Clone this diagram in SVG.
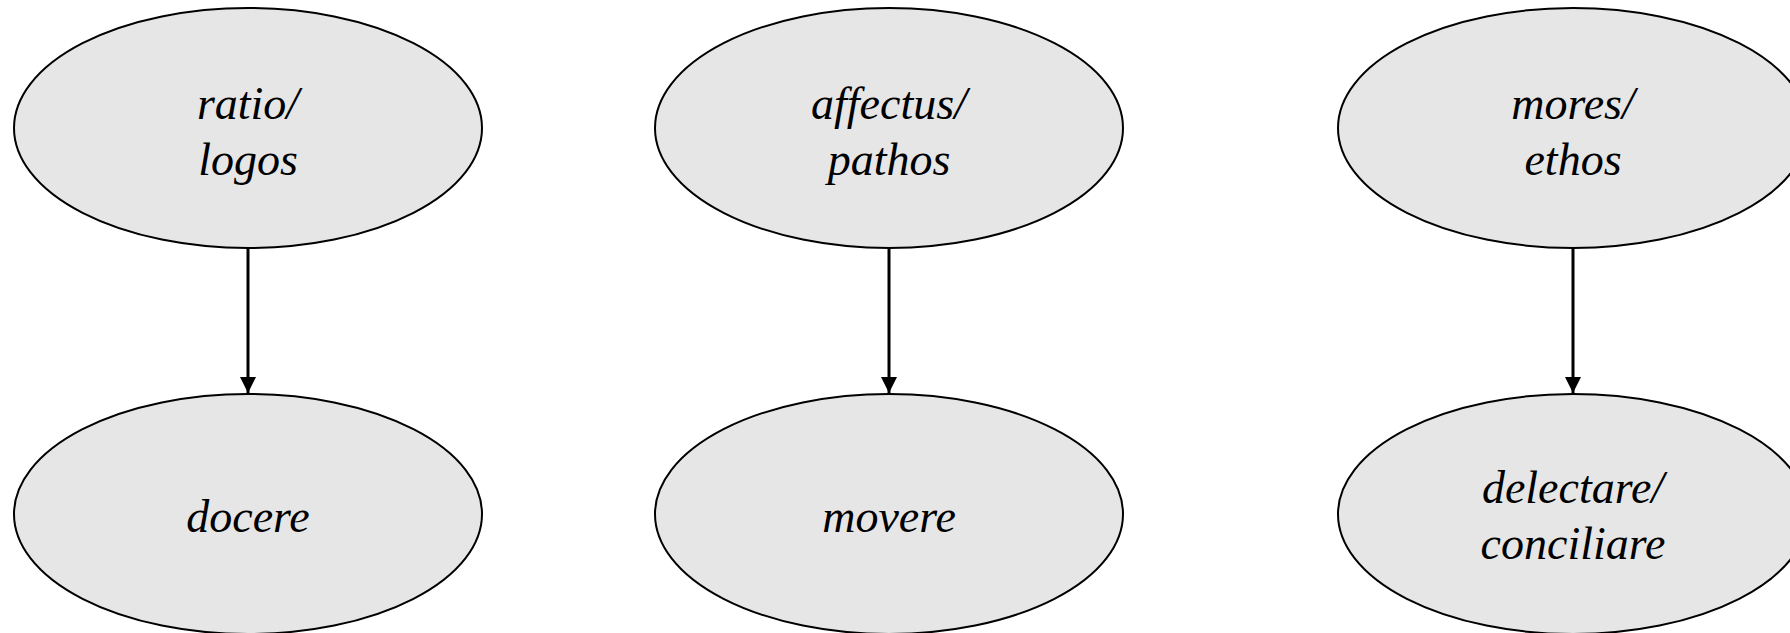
<svg xmlns="http://www.w3.org/2000/svg" width="1790" height="633" viewBox="0 0 1790 633">
  <style>
    .node ellipse { fill: #e6e6e6; stroke: #000; stroke-width: 2; }
    .node text { font-family: "Liberation Serif", "Times New Roman", serif; font-style: italic; font-size: 46px; fill: #000; text-anchor: middle; }
    .edge { stroke: #000; stroke-width: 3; fill: none; }
  </style>
  <defs>
    <marker id="arrow" viewBox="0 0 16 16" refX="16" refY="8" markerWidth="16" markerHeight="16" markerUnits="userSpaceOnUse" orient="auto">
      <path d="M0,0 L16,8 L0,16 Z" fill="#000"/>
    </marker>
  </defs>
  <rect width="1790" height="633" fill="#fff"/>

  <g id="connectors">
    <line class="edge" x1="248" y1="249" x2="248" y2="393" marker-end="url(#arrow)"/>
    <line class="edge" x1="889" y1="249" x2="889" y2="393" marker-end="url(#arrow)"/>
    <line class="edge" x1="1573" y1="249" x2="1573" y2="393" marker-end="url(#arrow)"/>
  </g>

  <g id="ratio-logos" class="node">
    <ellipse cx="248" cy="128" rx="234" ry="120"/>
    <text x="248" y="119">ratio/</text>
    <text x="248" y="175">logos</text>
  </g>
  <g id="affectus-pathos" class="node">
    <ellipse cx="889" cy="128" rx="234" ry="120"/>
    <text x="889" y="119">affectus/</text>
    <text x="889" y="175">pathos</text>
  </g>
  <g id="mores-ethos" class="node">
    <ellipse cx="1573" cy="128" rx="235" ry="120"/>
    <text x="1573" y="119">mores/</text>
    <text x="1573" y="175">ethos</text>
  </g>

  <g id="docere" class="node">
    <ellipse cx="248" cy="514" rx="234" ry="120"/>
    <text x="248" y="532">docere</text>
  </g>
  <g id="movere" class="node">
    <ellipse cx="889" cy="514" rx="234" ry="120"/>
    <text x="889" y="532">movere</text>
  </g>
  <g id="delectare-conciliare" class="node">
    <ellipse cx="1573" cy="514" rx="235" ry="120"/>
    <text x="1573" y="503">delectare/</text>
    <text x="1573" y="559">conciliare</text>
  </g>
</svg>
